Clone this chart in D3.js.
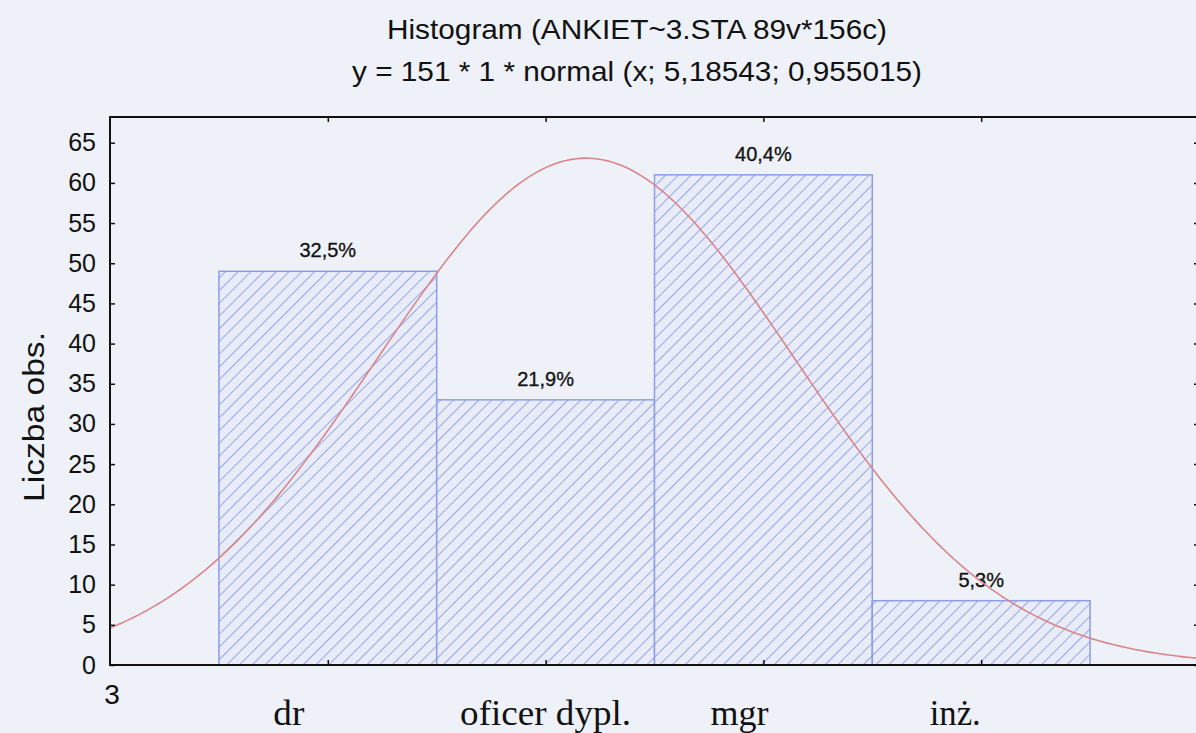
<!DOCTYPE html>
<html>
  <head>
    <meta charset="utf-8">
    <script src="https://d3js.org/d3.v7.min.js"></script>
    <style type="text/css">
body {
  margin: 0;
  background: #eef1f7;
}
#chart text {
  fill: #111;
}
    </style>
  </head>
  <body>
    <svg id="chart" width="1196" height="733"></svg>
    <script type="text/javascript">
// histogram data
var categories = ["dr", "oficer dypl.", "mgr", "inż."];
var classValues = [4, 5, 6, 7];
var counts = [49, 33, 61, 8];
var percentLabels = ["32,5%", "21,9%", "40,4%", "5,3%"];
var yTicks = [0, 5, 10, 15, 20, 25, 30, 35, 40, 45, 50, 55, 60, 65];

// fitted curve, as given in the title: y = 151 * 1 * normal(x; 5,18543; 0,955015)
var fitN = 151, fitWidth = 1, fitMean = 5.18543, fitSd = 0.955015;

var titleLines = [
  "Histogram (ANKIET~3.STA 89v*156c)",
  "y = 151 * 1 * normal (x; 5,18543; 0,955015)"
];

var svg = d3.select("#chart");
// note: "top" is taken by window.top, so plot edges get their own names
var plotLeft = 110, plotRight = 1199, plotTop = 117, plotBottom = 665;

var x = d3.scaleLinear().domain([3, 8]).range([plotLeft, plotRight]);
var y = d3.scaleLinear().domain([0, 68.2]).range([plotBottom, plotTop]);

// the category names were pasted in by hand on the scan, slightly off the class centres
var catShift = [-39, 0, -24, -26];
var catWidth = [31, 171, 58, 51];

// hatch pattern for the bars
var defs = svg.append("defs");
var pat = defs.append("pattern")
    .attr("id", "hatch")
    .attr("patternUnits", "userSpaceOnUse")
    .attr("width", 9)
    .attr("height", 9)
    .attr("patternTransform", "rotate(45)");
pat.append("rect").attr("width", 9).attr("height", 9).attr("fill", "#e8ecf9");
pat.append("line")
    .attr("x1", 0).attr("y1", 0).attr("x2", 0).attr("y2", 9)
    .attr("stroke", "#8a99e2")
    .attr("stroke-width", 1.7);

defs.append("clipPath").attr("id", "plotclip")
  .append("rect")
    .attr("x", plotLeft).attr("y", plotTop)
    .attr("width", plotRight - plotLeft).attr("height", plotBottom - plotTop);

// titles
svg.selectAll(".title")
  .data(titleLines)
  .enter().append("text")
    .attr("class", "title")
    .attr("x", 637)
    .attr("y", function(d, i) { return 39 + i * 42; })
    .attr("text-anchor", "middle")
    .attr("font-family", "Liberation Sans, Arial, sans-serif")
    .attr("font-size", 28)
    .attr("textLength", function(d, i) { return i == 0 ? 500 : 570; })
    .attr("lengthAdjust", "spacingAndGlyphs")
    .text(function(d) { return d; });

// bars
svg.selectAll(".bar")
  .data(counts)
  .enter().append("rect")
    .attr("class", "bar")
    .attr("x", function(d, i) { return x(classValues[i] - 0.5); })
    .attr("width", function(d, i) { return x(classValues[i] + 0.5) - x(classValues[i] - 0.5); })
    .attr("y", function(d) { return y(d); })
    .attr("height", function(d) { return y(0) - y(d); })
    .attr("fill", "url(#hatch)")
    .attr("stroke", "#8d9de6")
    .attr("stroke-width", 1.5);

// percentage labels
svg.selectAll(".pct")
  .data(counts)
  .enter().append("text")
    .attr("class", "pct")
    .attr("x", function(d, i) { return x(classValues[i]); })
    .attr("y", function(d) { return y(d) - 14; })
    .attr("text-anchor", "middle")
    .attr("font-family", "Liberation Sans, Arial, sans-serif")
    .attr("font-size", 20)
    .attr("stroke", "#111")
    .attr("stroke-width", 0.3)
    .text(function(d, i) { return percentLabels[i]; });

// normal curve
var xs = d3.range(3, 8.001, 0.02);
function fit(v) {
  var z = (v - fitMean) / fitSd;
  return fitN * fitWidth * Math.exp(-0.5 * z * z) / (fitSd * Math.sqrt(2 * Math.PI));
}
svg.append("path")
    .datum(xs)
    .attr("clip-path", "url(#plotclip)")
    .attr("fill", "none")
    .attr("stroke", "#d8868a")
    .attr("stroke-width", 1.6)
    .attr("d", d3.line().x(function(d) { return x(d); }).y(function(d) { return y(fit(d)); }));

// frame
svg.append("rect")
    .attr("x", plotLeft).attr("y", plotTop)
    .attr("width", plotRight - plotLeft).attr("height", plotBottom - plotTop)
    .attr("fill", "none")
    .attr("stroke", "#111")
    .attr("stroke-width", 2);

// left axis
var yAxis = svg.append("g")
    .attr("transform", "translate(" + plotLeft + ",0)")
    .call(d3.axisLeft(y).tickValues(yTicks).tickSize(-5).tickPadding(14));
yAxis.select(".domain").remove();
yAxis.selectAll("line").attr("stroke", "#111").attr("stroke-width", 1.5);
yAxis.selectAll("text")
    .attr("font-family", "Liberation Sans, Arial, sans-serif")
    .attr("font-size", 25);

// right side ticks
var yRight = svg.append("g")
    .attr("transform", "translate(" + plotRight + ",0)")
    .call(d3.axisRight(y).tickValues(yTicks).tickSize(-5).tickFormat(""));
yRight.select(".domain").remove();
yRight.selectAll("line").attr("stroke", "#111").attr("stroke-width", 1.5);

// top and bottom ticks at class centres
var xTop = svg.append("g")
    .attr("transform", "translate(0," + plotTop + ")")
    .call(d3.axisTop(x).tickValues(classValues).tickSize(-5).tickFormat(""));
xTop.select(".domain").remove();
xTop.selectAll("line").attr("stroke", "#111").attr("stroke-width", 1.5);

var xBottom = svg.append("g")
    .attr("transform", "translate(0," + plotBottom + ")")
    .call(d3.axisBottom(x).tickValues(classValues).tickSize(-5).tickFormat(""));
xBottom.select(".domain").remove();
xBottom.selectAll("line").attr("stroke", "#111").attr("stroke-width", 1.5);

// "3" at the left end of the x axis
svg.append("text")
    .attr("x", x(3) + 2)
    .attr("y", 704)
    .attr("text-anchor", "middle")
    .attr("font-family", "Liberation Sans, Arial, sans-serif")
    .attr("font-size", 28)
    .text("3");

// category names
svg.selectAll(".cat")
  .data(categories)
  .enter().append("text")
    .attr("class", "cat")
    .attr("x", function(d, i) { return x(classValues[i]) + catShift[i]; })
    .attr("y", 725)
    .attr("text-anchor", "middle")
    .attr("font-family", "Liberation Serif, Times New Roman, serif")
    .attr("font-size", 36)
    .attr("textLength", function(d, i) { return catWidth[i]; })
    .attr("lengthAdjust", "spacingAndGlyphs")
    .text(function(d) { return d; });

// y label
svg.append("text")
    .attr("transform", "translate(44,417) rotate(-90)")
    .attr("text-anchor", "middle")
    .attr("font-family", "Liberation Sans, Arial, sans-serif")
    .attr("font-size", 30)
    .attr("textLength", 170)
    .attr("lengthAdjust", "spacingAndGlyphs")
    .text("Liczba obs.");
    </script>
  </body>
</html>
